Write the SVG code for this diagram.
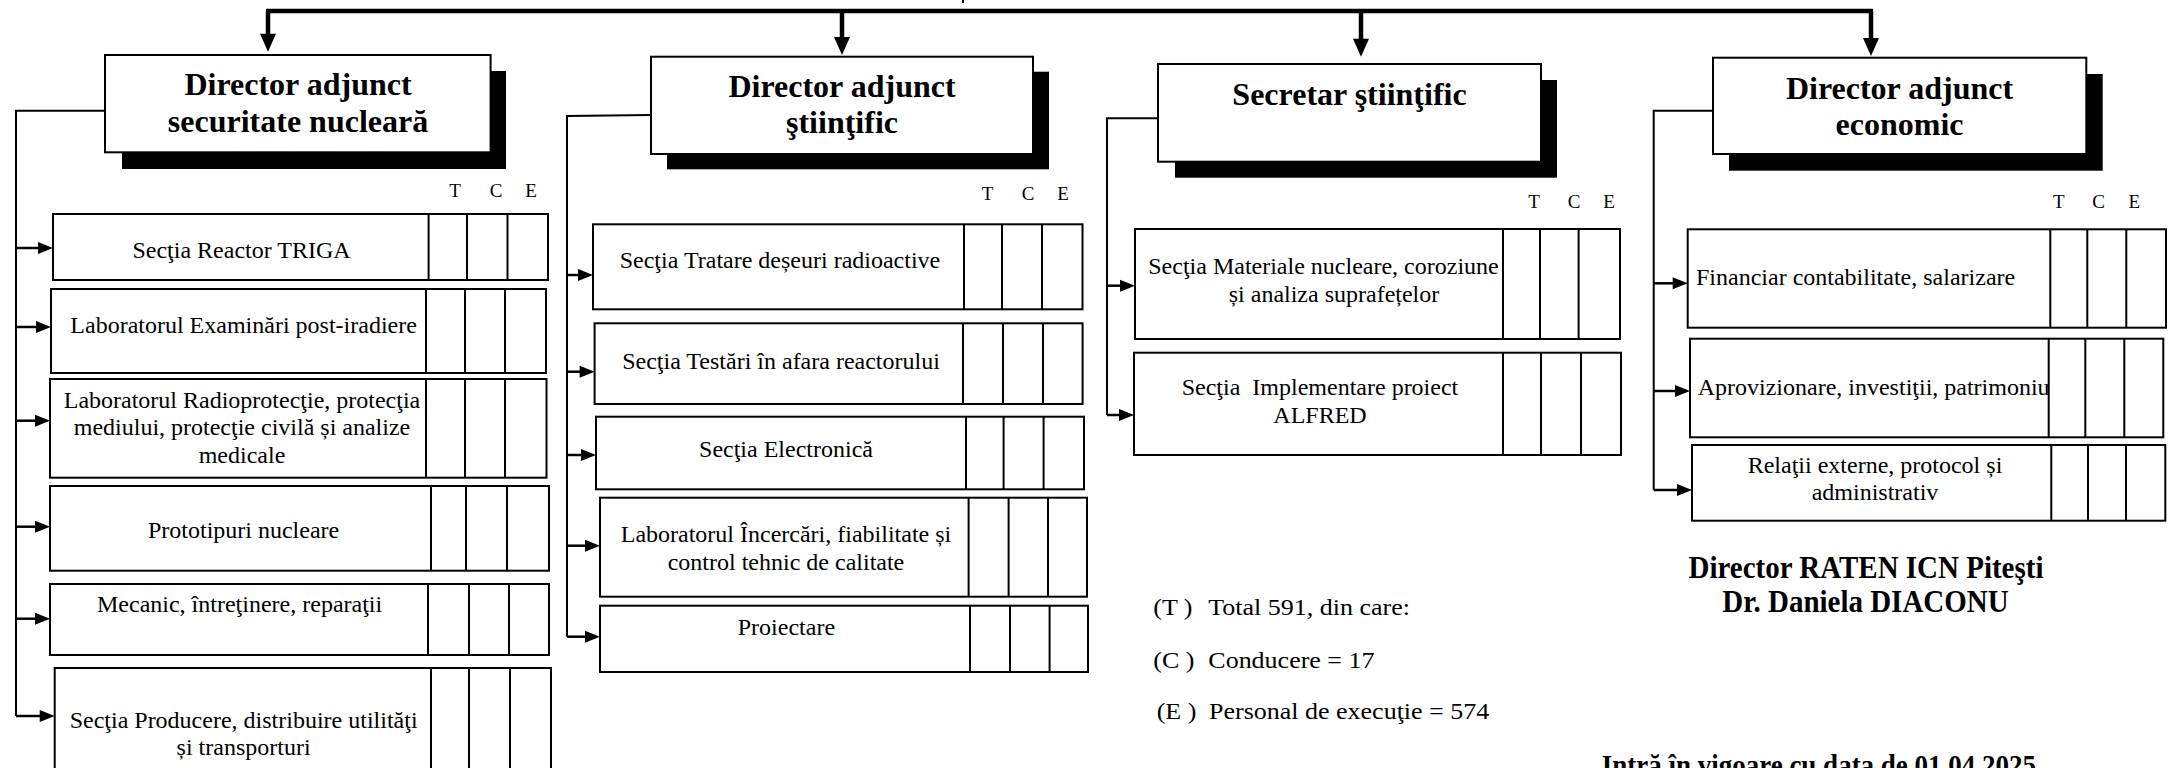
<svg xmlns="http://www.w3.org/2000/svg" width="2169" height="768" viewBox="0 0 2169 768">
<style>
.box{fill:#fff;stroke:#000;stroke-width:2}
.shadow{fill:#000}
.cell{fill:#fff;stroke:#000;stroke-width:2}
.div{fill:none;stroke:#000;stroke-width:2}
.conn{fill:none;stroke:#000;stroke-width:2}
.arr{fill:none;stroke:#000;stroke-width:2.5}
.bus{fill:none;stroke:#000;stroke-width:4.5}
text{font-family:"Liberation Serif","Times New Roman",serif;fill:#000}
.title{font-weight:bold;font-size:32px;text-anchor:middle}
.lbl{font-size:24px;text-anchor:middle}
.lbll{font-size:24px;text-anchor:start}
.tce{font-size:19px;text-anchor:middle}
.leg{font-size:26px}
.dir{font-weight:bold;font-size:29px;text-anchor:middle}
.date{font-weight:bold;font-size:27px}
</style>
<defs>
<marker id="ah" markerUnits="userSpaceOnUse" markerWidth="15" markerHeight="12" refX="5" refY="6" orient="auto" overflow="visible"><path d="M0,0 L15,6 L0,12 z" fill="#000"/></marker>
<marker id="ahb" markerUnits="userSpaceOnUse" markerWidth="18" markerHeight="16" refX="6" refY="8" orient="auto" overflow="visible"><path d="M0,0 L18,8 L0,16 z" fill="#000"/></marker>
</defs>

<g id="connectors">
<path class="conn" d="M963,0 V3"/>
<path class="bus" d="M266,11 H1873"/>
<path class="bus" d="M268,11 V39.7" marker-end="url(#ahb)"/>
<path class="bus" d="M842,11 V43" marker-end="url(#ahb)"/>
<path class="bus" d="M1361,11 V44.7" marker-end="url(#ahb)"/>
<path class="bus" d="M1871,11 V44" marker-end="url(#ahb)"/>

<path class="conn" d="M105,110.7 H16 V716"/>
<path class="arr" d="M16,248 H43" marker-end="url(#ah)"/>
<path class="arr" d="M16,327 H41" marker-end="url(#ah)"/>
<path class="arr" d="M16,420.7 H40" marker-end="url(#ah)"/>
<path class="arr" d="M16,526.7 H40" marker-end="url(#ah)"/>
<path class="arr" d="M16,618.7 H40" marker-end="url(#ah)"/>
<path class="arr" d="M16,716 H44.7" marker-end="url(#ah)"/>

<path class="conn" d="M651,115 L567,116 V636.7"/>
<path class="arr" d="M567,275 H583" marker-end="url(#ah)"/>
<path class="arr" d="M567,371.7 H584.6" marker-end="url(#ah)"/>
<path class="arr" d="M567,455 H586" marker-end="url(#ah)"/>
<path class="arr" d="M567,545.7 H590" marker-end="url(#ah)"/>
<path class="arr" d="M567,636.7 H590" marker-end="url(#ah)"/>

<path class="conn" d="M1158,118.3 H1107 V415"/>
<path class="arr" d="M1107,285.7 H1125" marker-end="url(#ah)"/>
<path class="arr" d="M1107,415 H1124" marker-end="url(#ah)"/>

<path class="conn" d="M1713,110.7 H1653.7 V490"/>
<path class="arr" d="M1653.7,283.3 H1677.7" marker-end="url(#ah)"/>
<path class="arr" d="M1653.7,391 H1680" marker-end="url(#ah)"/>
<path class="arr" d="M1653.7,490 H1682" marker-end="url(#ah)"/>
</g>

<!-- Header nodes -->
<g id="dir-securitate">
<rect class="shadow" x="122" y="71" width="384" height="98"/>
<rect class="box" x="105" y="55" width="385.6" height="97.3"/>
<text class="title" x="298" y="95">Director adjunct</text>
<text class="title" x="298" y="131.7">securitate nucleară</text>
</g>
<g id="dir-stiintific">
<rect class="shadow" x="667" y="71.7" width="382" height="97.6"/>
<rect class="box" x="651" y="56.7" width="382" height="97.3"/>
<text class="title" x="842" y="96.7">Director adjunct</text>
<text class="title" x="842" y="132.7">ştiinţific</text>
</g>
<g id="secretar">
<rect class="shadow" x="1175" y="80" width="382" height="97.7"/>
<rect class="box" x="1158" y="64" width="383" height="97.7"/>
<text class="title" x="1349.5" y="105">Secretar ştiinţific</text>
</g>
<g id="dir-economic">
<rect class="shadow" x="1729" y="74" width="373.7" height="96.7"/>
<rect class="box" x="1713" y="57.7" width="373.3" height="96.3"/>
<text class="title" x="1899.5" y="99.3">Director adjunct</text>
<text class="title" x="1899.5" y="135">economic</text>
</g>

<!-- TCE headers -->
<g id="tce-1"><text class="tce" x="455" y="197">T</text><text class="tce" x="496" y="197">C</text><text class="tce" x="531" y="197">E</text></g>
<g id="tce-2"><text class="tce" x="987.5" y="200">T</text><text class="tce" x="1028" y="200">C</text><text class="tce" x="1063" y="200">E</text></g>
<g id="tce-3"><text class="tce" x="1534" y="208.3">T</text><text class="tce" x="1574" y="208.3">C</text><text class="tce" x="1609" y="208.3">E</text></g>
<g id="tce-4"><text class="tce" x="2058.7" y="208.3">T</text><text class="tce" x="2098.7" y="208.3">C</text><text class="tce" x="2134.3" y="208.3">E</text></g>

<!-- Group 1 -->
<g id="n-triga">
<rect class="cell" x="53" y="214" width="495" height="66"/>
<path class="div" d="M428.6,214V280M467,214V280M507.5,214V280"/>
<text class="lbl" x="241.5" y="258">Secţia Reactor TRIGA</text>
</g>
<g id="n-pie">
<rect class="cell" x="51" y="289" width="495" height="84"/>
<path class="div" d="M426,289V373M465,289V373M505,289V373"/>
<text class="lbl" x="243.6" y="333">Laboratorul Examinări post-iradiere</text>
</g>
<g id="n-radioprot">
<rect class="cell" x="50" y="379" width="496.5" height="98.7"/>
<path class="div" d="M426,379V477.7M465,379V477.7M505,379V477.7"/>
<text class="lbl" x="242" y="408.3">Laboratorul Radioprotecţie, protecţia</text>
<text class="lbl" x="242" y="435">mediului, protecţie civilă și analize</text>
<text class="lbl" x="242" y="462.7">medicale</text>
</g>
<g id="n-prototipuri">
<rect class="cell" x="50" y="486" width="499" height="84.7"/>
<path class="div" d="M431,486V570.7M466,486V570.7M507,486V570.7"/>
<text class="lbl" x="243.6" y="538">Prototipuri nucleare</text>
</g>
<g id="n-mecanic">
<rect class="cell" x="50" y="584" width="499" height="71"/>
<path class="div" d="M428,584V655M469,584V655M509,584V655"/>
<text class="lbl" x="239.6" y="612.3">Mecanic, întreţinere, reparaţii</text>
</g>
<g id="n-utilitati">
<rect class="cell" x="54.7" y="668" width="496.3" height="112"/>
<path class="div" d="M431,668V780M469,668V780M510,668V780"/>
<text class="lbl" x="243.6" y="728.3">Secţia Producere, distribuire utilităţi</text>
<text class="lbl" x="243.6" y="755">și transporturi</text>
</g>

<!-- Group 2 -->
<g id="n-deseuri">
<rect class="cell" x="593" y="224.3" width="489.5" height="85"/>
<path class="div" d="M964,224.3V309.3M1002,224.3V309.3M1042,224.3V309.3"/>
<text class="lbl" x="780" y="268.3">Secţia Tratare deșeuri radioactive</text>
</g>
<g id="n-testari">
<rect class="cell" x="594.6" y="323.3" width="488" height="80.7"/>
<path class="div" d="M963,323.3V404M1003,323.3V404M1043,323.3V404"/>
<text class="lbl" x="781" y="369.3">Secţia Testări în afara reactorului</text>
</g>
<g id="n-electronica">
<rect class="cell" x="596" y="416.7" width="488" height="72.6"/>
<path class="div" d="M966,416.7V489.3M1003.6,416.7V489.3M1043.6,416.7V489.3"/>
<text class="lbl" x="786" y="457.3">Secţia Electronică</text>
</g>
<g id="n-incercari">
<rect class="cell" x="600" y="497.7" width="487" height="99"/>
<path class="div" d="M968.6,497.7V596.7M1008.6,497.7V596.7M1048,497.7V596.7"/>
<text class="lbl" x="786" y="542.3">Laboratorul Încercări, fiabilitate și</text>
<text class="lbl" x="786" y="570">control tehnic de calitate</text>
</g>
<g id="n-proiectare">
<rect class="cell" x="600" y="605.7" width="488" height="66.3"/>
<path class="div" d="M970,605.7V672M1010,605.7V672M1049.6,605.7V672"/>
<text class="lbl" x="786.4" y="635">Proiectare</text>
</g>

<!-- Group 3 -->
<g id="n-materiale">
<rect class="cell" x="1135" y="229" width="485" height="110"/>
<path class="div" d="M1503,229V339M1540,229V339M1578.6,229V339"/>
<text class="lbl" x="1323.5" y="274">Secţia Materiale nucleare, coroziune</text>
<text class="lbl" x="1334" y="301.7">și analiza suprafețelor</text>
</g>
<g id="n-alfred">
<rect class="cell" x="1134" y="352.7" width="487" height="102.3"/>
<path class="div" d="M1503,352.7V455M1541,352.7V455M1581,352.7V455"/>
<text class="lbl" x="1320" y="395" xml:space="preserve">Secţia  Implementare proiect</text>
<text class="lbl" x="1320" y="422.7">ALFRED</text>
</g>

<!-- Group 4 -->
<g id="n-financiar">
<rect class="cell" x="1687.7" y="229.3" width="478.3" height="98.4"/>
<path class="div" d="M2050.3,229.3V327.7M2087.3,229.3V327.7M2126.3,229.3V327.7"/>
<text class="lbll" x="1696" y="285">Financiar contabilitate, salarizare</text>
</g>
<g id="n-aprovizionare">
<rect class="cell" x="1690" y="338.7" width="473.3" height="98.6"/>
<path class="div" d="M2048.7,338.7V437.3M2085.3,338.7V437.3M2124.3,338.7V437.3"/>
<text class="lbll" x="1697.7" y="395">Aprovizionare, investiţii, patrimoniu</text>
</g>
<g id="n-relatii">
<rect class="cell" x="1692" y="445" width="473.3" height="75.7"/>
<path class="div" d="M2051.3,445V520.7M2088,445V520.7M2126,445V520.7"/>
<text class="lbl" x="1875" y="473.3">Relaţii externe, protocol și</text>
<text class="lbl" x="1875" y="500">administrativ</text>
</g>

<!-- Legend -->
<g id="legend">
<text class="leg" transform="translate(1153.3,615) scale(1,0.87)"><tspan x="0">(T )</tspan><tspan x="55">Total 591, din care:</tspan></text>
<text class="leg" transform="translate(1153.3,668.3) scale(1,0.87)"><tspan x="0">(C )</tspan><tspan x="55">Conducere = 17</tspan></text>
<text class="leg" transform="translate(1156.7,719.3) scale(1,0.87)"><tspan x="0">(E )</tspan><tspan x="52.3">Personal de execuţie = 574</tspan></text>
</g>

<g id="director">
<text class="dir" transform="translate(1866,578.3) scale(1,1.12)">Director RATEN ICN Piteşti</text>
<text class="dir" transform="translate(1865.5,611.7) scale(1,1.12)">Dr. Daniela DIACONU</text>
</g>
<text class="date" transform="translate(1601.7,775) scale(1,1.12)">Intră în vigoare cu data de 01.04.2025</text>
</svg>
